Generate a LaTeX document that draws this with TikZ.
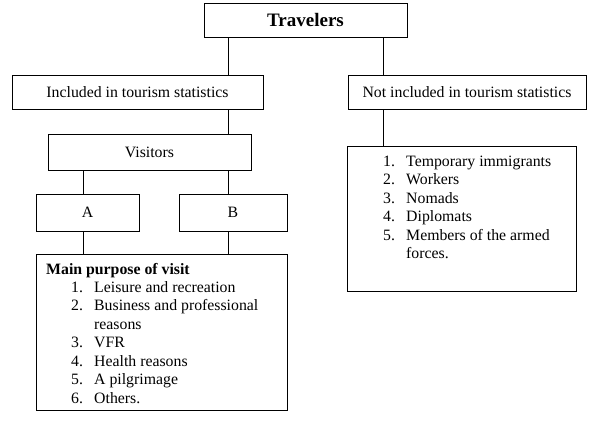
\documentclass[tikz,border=0pt]{standalone}
\usepackage{fontspec}
\setmainfont{Liberation Serif}
\begin{document}
\begin{tikzpicture}[x=1pt,y=1pt,
  box/.style={draw=black,line width=0.9pt,inner sep=0pt,fill=white},
  lbl/.style={font=\fontsize{15.8}{18}\selectfont,inner sep=0pt},
  itm/.style={font=\fontsize{15.8}{18}\selectfont,inner sep=0pt,anchor=base west},
  conn/.style={draw=black,line width=0.9pt}]
\useasboundingbox (0,0) rectangle (612,-423);
\fill[white] (0,0) rectangle (612,-423);
% boxes
\node[box,minimum width=203pt,minimum height=34pt] (trav) at (305.5,-20) {};
\node[lbl,font=\fontsize{19}{20}\selectfont\bfseries] (travt) at (305.5,-20) {Travelers};
\node[box,minimum width=251pt,minimum height=34pt] (inc) at (137.5,-92) {};
\node[lbl] (inct) at (137.5,-92) {Included in tourism statistics};
\node[box,minimum width=238pt,minimum height=34pt] (ninc) at (467,-92) {};
\node[lbl] (ninct) at (467,-92) {Not included in tourism statistics};
\node[box,minimum width=203pt,minimum height=36pt] (vis) at (149.5,-152) {};
\node[lbl] (vist) at (149.5,-152) {Visitors};
\node[box,minimum width=103pt,minimum height=37pt] (A) at (87.5,-212.5) {};
\node[lbl] (At) at (87.5,-212.5) {A};
\node[box,minimum width=108pt,minimum height=37pt] (B) at (233,-212.5) {};
\node[lbl] (Bt) at (233,-212.5) {B};
\node[box,minimum width=251pt,minimum height=156pt] (main) at (161.5,-332) {};
\node[box,minimum width=229pt,minimum height=145pt] (lst) at (461.5,-218.5) {};
% connectors
\draw[conn] (trav.south -| 228,0) -- (inc.north -| 228,0);
\draw[conn] (trav.south -| 383,0) -- (ninc.north -| 383,0);
\draw[conn] (inc.south -| 228,0) -- (vis.north -| 228,0);
\draw[conn] (vis.south -| 83,0) -- (A.north -| 83,0);
\draw[conn] (vis.south -| 228,0) -- (B.north -| 228,0);
\draw[conn] (A.south -| 83,0) -- (main.north -| 83,0);
\draw[conn] (B.south -| 228,0) -- (main.north -| 228,0);
\draw[conn] (ninc.south -| 383,0) -- (lst.north -| 383,0);
% main list
\node[itm,font=\fontsize{15.8}{18}\selectfont\bfseries] (mh) at (46,-274) {Main purpose of visit};
\node[itm] (m1n) at (71,-292) {1.};
\node[itm] (m1) at (94,-292) {Leisure and recreation};
\node[itm] (m2n) at (71,-310.5) {2.};
\node[itm] (m2) at (94,-310.5) {Business and professional};
\node[itm] (m2b) at (94,-329) {reasons};
\node[itm] (m3n) at (71,-347.5) {3.};
\node[itm] (m3) at (94,-347.5) {VFR};
\node[itm] (m4n) at (71,-366) {4.};
\node[itm] (m4) at (94,-366) {Health reasons};
\node[itm] (m5n) at (71,-384.5) {5.};
\node[itm] (m5) at (94,-384.5) {A pilgrimage};
\node[itm] (m6n) at (71,-403) {6.};
\node[itm] (m6) at (94,-403) {Others.};
% right list
\node[itm] (r1n) at (383,-166) {1.};
\node[itm] (r1) at (406,-166) {Temporary immigrants};
\node[itm] (r2n) at (383,-184.5) {2.};
\node[itm] (r2) at (406,-184.5) {Workers};
\node[itm] (r3n) at (383,-203) {3.};
\node[itm] (r3) at (406,-203) {Nomads};
\node[itm] (r4n) at (383,-221.5) {4.};
\node[itm] (r4) at (406,-221.5) {Diplomats};
\node[itm] (r5n) at (383,-240) {5.};
\node[itm] (r5) at (406,-240) {Members of the armed};
\node[itm] (r5b) at (406,-258.5) {forces.};
\end{tikzpicture}
\end{document}
